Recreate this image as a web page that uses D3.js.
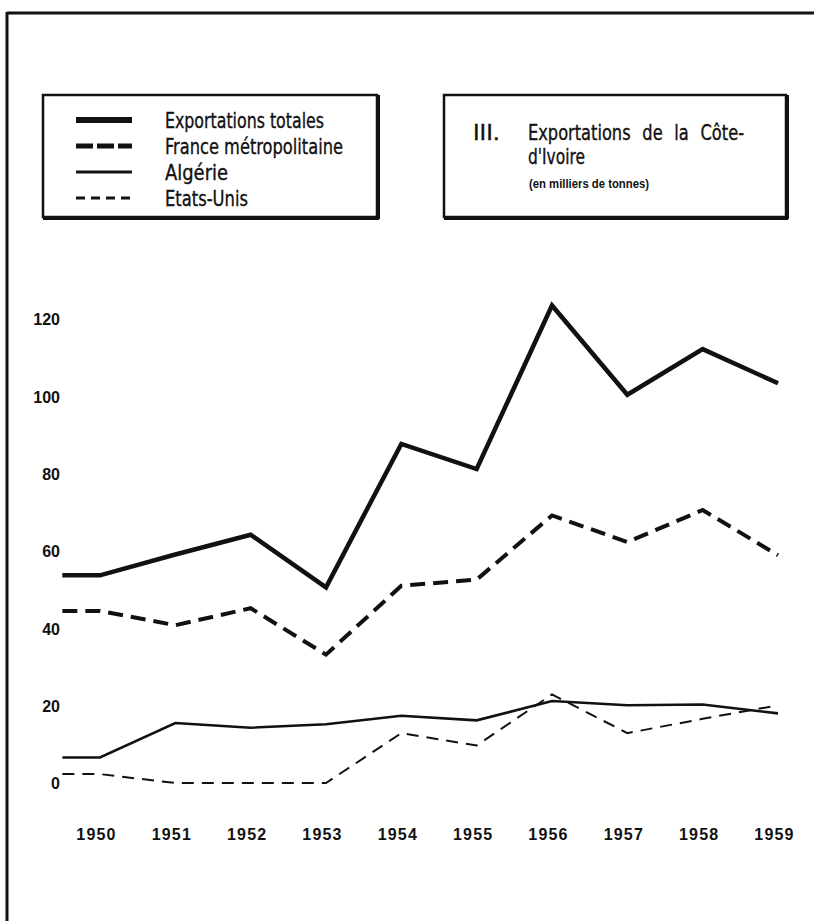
<!DOCTYPE html>
<html>
<head>
<meta charset="utf-8">
<script src="https://cdn.jsdelivr.net/npm/d3@7/dist/d3.min.js"></script>
<style>
  html, body { margin: 0; padding: 0; background: #fff; }
  svg { display: block; }
</style>
</head>
<body>
<svg id="chart" width="814" height="921"></svg>
<script>
// ---- data ----
const years = [1950, 1951, 1952, 1953, 1954, 1955, 1956, 1957, 1958, 1959];
const yearLabels = ["1950", "1951", "1952", "1953", "1954", "1955", "1956", "1957", "1958", "1959"];
const yTicks = [0, 20, 40, 60, 80, 100, 120];
const seriesNames = ["Exportations totales", "France métropolitaine", "Algérie", "Etats-Unis"];
const exportsTotal = [53.7, 59.1, 64.2, 50.6, 87.7, 81.2, 123.5, 100.4, 112.2, 103.4];
const franceMetro  = [44.5, 40.8, 45.2, 33.2, 51.0, 52.6, 69.2, 62.3, 70.6, 58.9];
const algerie      = [6.6, 15.5, 14.3, 15.2, 17.4, 16.2, 21.2, 20.1, 20.3, 18.0];
const etatsUnis    = [2.3, 0, 0, 0, 12.9, 9.7, 22.9, 12.9, 16.6, 20.1];
const titleLines = ["III.", "Exportations de la Côte-", "d'Ivoire", "(en milliers de tonnes)"];

const seriesValues = [exportsTotal, franceMetro, algerie, etatsUnis];
const styles = [
  { w: 4.5, dash: null,    lw: 6,   ldash: null },
  { w: 4,   dash: "15,8",  lw: 5,   ldash: "17,4" },
  { w: 2.6, dash: null,    lw: 3,   ldash: null },
  { w: 2,   dash: "12,8",  lw: 3,   ldash: "9,6" }
];

const svg = d3.select("#chart");
const ink = "#111";

// frame
svg.append("line").attr("x1", 7).attr("x2", 814).attr("y1", 13).attr("y2", 13)
  .attr("stroke", ink).attr("stroke-width", 3);
svg.append("line").attr("x1", 7).attr("x2", 7).attr("y1", 12).attr("y2", 921)
  .attr("stroke", ink).attr("stroke-width", 3);

// scales
const x = d3.scaleLinear().domain([1950, 1959]).range([100, 778]);
const y = d3.scaleLinear().domain([0, 120]).range([783, 319]);
const leadIn = 0.5;

// y axis labels
const yAxis = d3.axisLeft(y).tickValues(yTicks).tickSize(0).tickPadding(0);
const yg = svg.append("g").attr("transform", "translate(60,0)").call(yAxis);
yg.select(".domain").remove();
yg.selectAll("text")
  .attr("font-family", "'Liberation Sans', Arial, sans-serif")
  .attr("font-weight", "bold").attr("font-size", 16).attr("fill", ink)
  .attr("dy", "0.36em").attr("text-anchor", "end");

// x axis labels
const xAxis = d3.axisBottom(x).tickValues(years).tickFormat((d, i) => yearLabels[i]).tickSize(0).tickPadding(0);
const xg = svg.append("g").attr("transform", "translate(-4,834)").call(xAxis);
xg.select(".domain").remove();
xg.selectAll("text")
  .attr("font-family", "'Liberation Sans', Arial, sans-serif")
  .attr("font-weight", "bold").attr("font-size", 16).attr("fill", ink)
  .attr("letter-spacing", 1.2)
  .attr("dy", "0.36em").attr("y", 0);

// lines
const line = d3.line().x(d => x(d[0])).y(d => y(d[1]));
seriesValues.forEach((vals, i) => {
  const pts = [[years[0] - leadIn, vals[0]]].concat(years.map((yr, j) => [yr, vals[j]]));
  svg.append("path").datum(pts)
    .attr("d", line)
    .attr("fill", "none").attr("stroke", ink)
    .attr("stroke-width", styles[i].w)
    .attr("stroke-linejoin", "miter")
    .attr("stroke-dasharray", styles[i].dash);
});

// box helper
function box(x0, y0, x1, y1) {
  svg.append("rect").attr("x", x0).attr("y", y0).attr("width", x1 - x0).attr("height", y1 - y0)
    .attr("fill", "none").attr("stroke", ink).attr("stroke-width", 2.5);
  svg.append("line").attr("x1", x0).attr("x2", x1 + 2).attr("y1", y1 + 1.5).attr("y2", y1 + 1.5)
    .attr("stroke", ink).attr("stroke-width", 3);
  svg.append("line").attr("x1", x1 + 1.5).attr("x2", x1 + 1.5).attr("y1", y0).attr("y2", y1 + 2)
    .attr("stroke", ink).attr("stroke-width", 3);
}

const condensed = "'DejaVu Sans Condensed', 'Liberation Sans Narrow', 'DejaVu Sans', sans-serif";
function condText(t, xx, yy, len) {
  return svg.append("text").attr("x", xx).attr("y", yy).attr("dy", "0.36em")
    .attr("font-family", condensed).attr("font-size", 22).attr("fill", ink)
    .attr("stroke", ink).attr("stroke-width", 0.35)
    .attr("textLength", len).attr("lengthAdjust", "spacingAndGlyphs")
    .text(t);
}

// legend
box(43, 95, 377, 217);
const legendRows = [120, 146, 172, 198];
const legendWidths = [159, 178, 63, 83];
seriesNames.forEach((name, i) => {
  svg.append("line").attr("x1", 76).attr("x2", 132)
    .attr("y1", legendRows[i]).attr("y2", legendRows[i])
    .attr("stroke", ink).attr("stroke-width", styles[i].lw)
    .attr("stroke-dasharray", styles[i].ldash);
  condText(name, 165, legendRows[i], legendWidths[i]);
});

// title box
box(444, 95, 786, 217);
condText(titleLines[0], 473, 132, 27);
condText(titleLines[1], 528, 132, 216).attr("word-spacing", 8);
condText(titleLines[2], 528, 156, 57);
svg.append("text").attr("x", 529).attr("y", 184).attr("dy", "0.36em")
  .attr("font-family", "'Liberation Sans', Arial, sans-serif").attr("font-weight", "bold")
  .attr("font-size", 12).attr("fill", ink)
  .attr("textLength", 120).attr("lengthAdjust", "spacingAndGlyphs")
  .text(titleLines[3]);
</script>
</body>
</html>
